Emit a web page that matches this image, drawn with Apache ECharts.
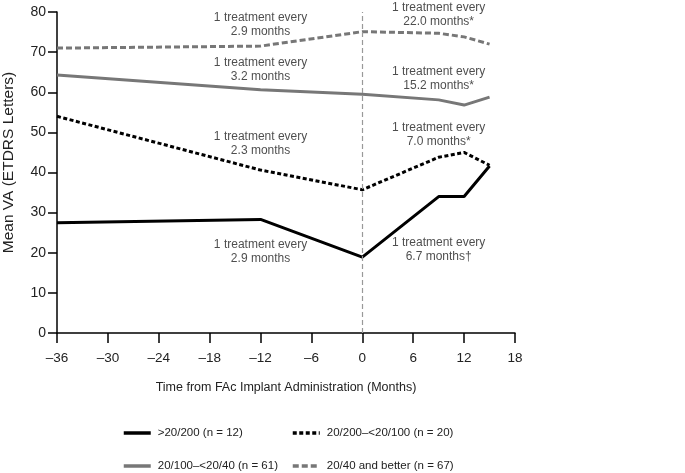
<!DOCTYPE html>
<html>
<head>
<meta charset="utf-8">
<script src="https://cdn.jsdelivr.net/npm/echarts@6/dist/echarts.min.js"></script>
<style>html,body{margin:0;padding:0;background:#fff}#c{width:685px;height:473px}</style>
</head>
<body>
<div id="c"></div>
<script>
var months = [-36, -12, 0, 9, 12, 15];
var seriesNames = ['>20/200 (n = 12)', '20/200\u2013<20/100 (n = 20)', '20/100\u2013<20/40 (n = 61)', '20/40 and better (n = 67)'];
var vaWorst = [27.5, 28.3, 18.9, 34.0, 34.0, 41.6];
var vaLow = [54.0, 40.6, 35.7, 43.8, 45.0, 41.8];
var vaMid = [64.3, 60.6, 59.5, 58.1, 56.8, 58.8];
var vaBest = [71.0, 71.5, 75.1, 74.7, 73.8, 72.0];
var xTicks = [-36, -30, -24, -18, -12, -6, 0, 6, 12, 18];
var yTicks = [0, 10, 20, 30, 40, 50, 60, 70, 80];
var annotations = [
  [-12, 76.8, '1 treatment every\n2.9 months'],
  [-12, 65.6, '1 treatment every\n3.2 months'],
  [-12, 47.1, '1 treatment every\n2.3 months'],
  [-12, 20.2, '1 treatment every\n2.9 months'],
  [9, 79.4, '1 treatment every\n22.0 months*'],
  [9, 63.3, '1 treatment every\n15.2 months*'],
  [9, 49.4, '1 treatment every\n7.0 months*'],
  [9, 20.7, '1 treatment every\n6.7 months\u2020']
];

var FONT = '"Liberation Sans", Arial, Helvetica, sans-serif';
function pairs(v){ return months.map(function(m,i){ return [m, v[i]]; }); }

var chart = echarts.init(document.getElementById('c'));
var lineDefs = [
  {name: seriesNames[0], data: vaWorst, color: '#000', type: 'solid'},
  {name: seriesNames[1], data: vaLow, color: '#000', type: [4, 2.5]},
  {name: seriesNames[2], data: vaMid, color: '#777', type: 'solid'},
  {name: seriesNames[3], data: vaBest, color: '#777', type: [6, 3]}
];
var series = lineDefs.map(function(d, i){
  var s = {
    name: d.name, type: 'line', data: pairs(d.data), symbol: 'none', showSymbol: false,
    lineStyle: {color: d.color, width: 3, type: d.type},
    itemStyle: {color: d.color},
    silent: true, z: 3
  };
  if (i === 0) {
    s.markLine = {
      silent: true, symbol: 'none', label: {show: false},
      lineStyle: {color: '#999', type: [5, 3], width: 1.2},
      data: [{xAxis: 0}]
    };
  }
  return s;
});
series.push({
  type: 'scatter', symbolSize: 0, silent: true, z: 5,
  data: annotations.map(function(a){ return {value: [a[0], a[1]], label: {formatter: a[2]}}; }),
  label: {show: true, position: 'inside', color: '#222', fontFamily: FONT, fontSize: 12, lineHeight: 14, align: 'center', verticalAlign: 'middle'}
});

var legendPos = [[117, 422], [286, 422], [117, 455], [286, 455]];
var legendOrder = [0, 1, 2, 3];
var legends = legendOrder.map(function(idx, k){
  return {
    left: legendPos[k][0], top: legendPos[k][1], orient: 'horizontal',
    itemWidth: 27, itemHeight: 14, itemGap: 10, selectedMode: false,
    data: [seriesNames[idx]],
    itemStyle: {opacity: 0},
    lineStyle: {width: 3.5},
    textStyle: {color: '#222', fontSize: 11.5, fontFamily: FONT, padding: [0, 0, 0, 2]}
  };
});

chart.setOption({
  animation: false,
  grid: {left: 57, right: 170, top: 12, bottom: 140, containLabel: false, outerBoundsMode: 'none'},
  xAxis: {
    type: 'value', min: -36, max: 18, interval: 6,
    name: 'Time from FAc Implant Administration (Months)', nameLocation: 'middle', nameGap: 48,
    nameTextStyle: {color: '#222', fontSize: 12.5, fontFamily: FONT},
    axisLine: {onZero: false, lineStyle: {color: '#000', width: 1.5}},
    axisTick: {show: true, inside: false, length: 10, lineStyle: {color: '#000', width: 1.5}},
    axisLabel: {color: '#222', fontSize: 13.5, fontFamily: FONT, margin: 18,
      formatter: function(v){ return v < 0 ? '\u2013' + Math.abs(v) : String(v); }},
    splitLine: {show: false}
  },
  yAxis: {
    type: 'value', min: 0, max: 80, interval: 10,
    name: 'Mean VA (ETDRS Letters)', nameLocation: 'middle', nameGap: 40,
    nameTextStyle: {color: '#222', fontSize: 15.5, fontFamily: FONT, padding: [0, 0, 0, 20]},
    axisLine: {show: true, onZero: false, lineStyle: {color: '#000', width: 1.5}},
    axisTick: {show: true, length: 9, lineStyle: {color: '#000', width: 1.5}},
    axisLabel: {color: '#222', fontSize: 14, fontFamily: FONT, margin: 11},
    splitLine: {show: false}
  },
  legend: legends,
  series: series
});
</script>
</body>
</html>
